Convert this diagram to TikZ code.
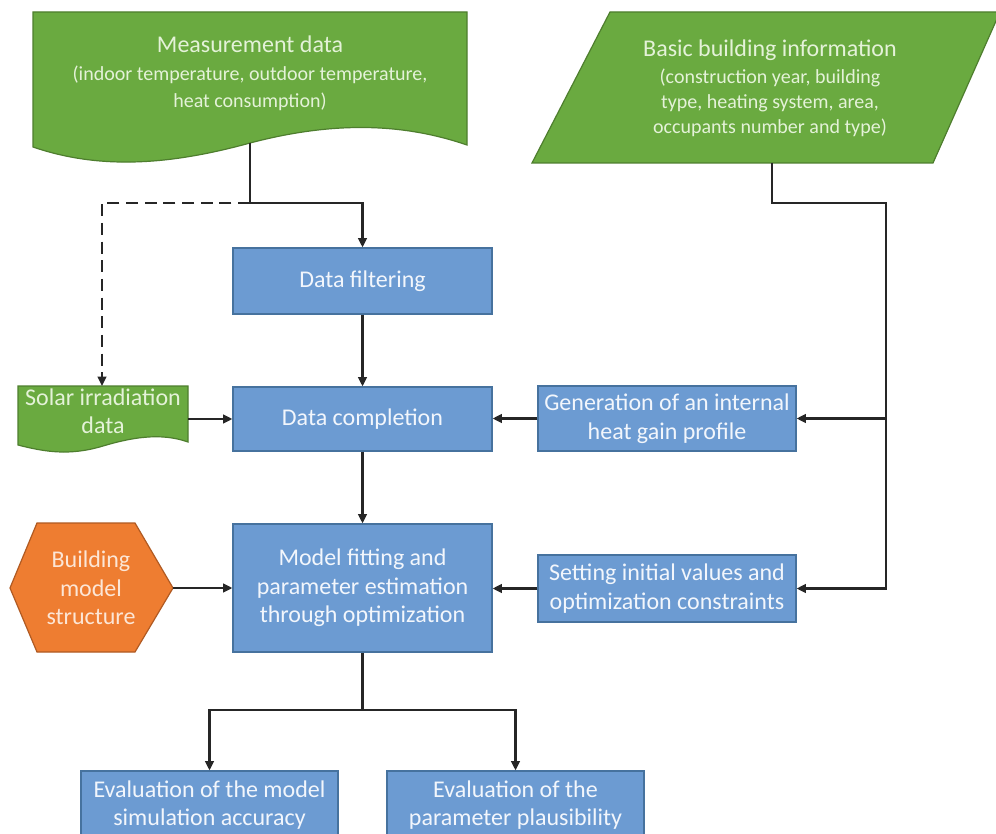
\documentclass[tikz,border=0pt]{standalone}
\usepackage{fontspec}
\setmainfont{Carlito}
\usetikzlibrary{arrows.meta}
\definecolor{gfill}{HTML}{6AAA40}
\definecolor{gline}{HTML}{4E7E2E}
\definecolor{bfill}{HTML}{6C9BD2}
\definecolor{bline}{HTML}{46729E}
\definecolor{ofill}{HTML}{EE7D31}
\definecolor{oline}{HTML}{B05A22}
\definecolor{conn}{HTML}{262626}
\definecolor{gtext}{HTML}{E4F2D8}
\definecolor{btext}{HTML}{F2F6FC}
\definecolor{otext}{HTML}{FCE6D6}
\begin{document}
\begin{tikzpicture}[x=0.75pt,y=-0.75pt,
  bluebox/.style={draw=bline,line width=0.9pt,fill=bfill,text=btext,inner sep=0pt,align=center,
    font=\fontsize{18}{21.4}\selectfont},
  greenshape/.style={draw=gline,line width=0.9pt,fill=gfill},
  orangeshape/.style={draw=oline,line width=0.9pt,fill=ofill},
  gtxt/.style={text=gtext,align=center,inner sep=0pt},
  otxt/.style={text=otext,align=center,inner sep=0pt,font=\fontsize{18}{21.4}\selectfont},
  wire/.style={draw=conn,line width=1.6pt},
  link/.style={wire,-{Triangle[length=7pt,width=6.5pt]}},
  dlink/.style={link,dash pattern=on 9pt off 5pt}]
\useasboundingbox (0,0) rectangle (996,834);
\clip (0,0) rectangle (996,834);
\fill[white] (0,0) rectangle (996,834);

% ---- input shapes
\path[greenshape] (33,12) -- (467,12) -- (467,145)
  .. controls (400,122) and (330,122) .. (250,143)
  .. controls (170,165) and (100,170) .. (33,147) -- cycle;
\node[gtxt,font=\fontsize{15}{20}\selectfont] (meas) at (250,73)
  {{\fontsize{18}{21}\selectfont Measurement data}\\[1pt]
   (indoor temperature, outdoor temperature,\\ heat consumption)};
\coordinate (mbot) at (250,143);
\coordinate (mjoin) at (250,203);

\path[greenshape] (610,12) -- (1000,12) -- (933,163) -- (532,163) -- cycle;
\node[gtxt,font=\fontsize{15}{18.5}\selectfont] (basic) at (770,88)
  {{\fontsize{18}{21}\selectfont Basic building information}\\[2pt]
   (construction year, building\\ type, heating system, area,\\ occupants number and type)};
\coordinate (bbot) at (772,163);
\coordinate (bjoin) at (772,203);
\coordinate (rbus) at (886,203);

\path[greenshape] (18,386) -- (188,386) -- (188,442)
  .. controls (160,432) and (130,438) .. (103,446)
  .. controls (70,456) and (45,452) .. (18,445) -- cycle;
\node[gtxt,font=\fontsize{18}{21}\selectfont] (solar) at (103,411) {Solar irradiation\\ data};
\coordinate (solartop) at (102,386);
\coordinate (solarright) at (188,419);

\path[orangeshape] (10,588) -- (37,523) -- (135,523) -- (173,588) -- (135,652) -- (37,652) -- cycle;
\node[otxt] (hexa) at (91,588) {Building\\ model\\ structure};
\coordinate (hexright) at (173,588);

% ---- process boxes
\node[bluebox,minimum width=194.25pt,minimum height=49.5pt] (filter) at (362.5,281) {Data filtering};
\node[bluebox,minimum width=194.25pt,minimum height=48pt] (compl) at (362.5,419) {Data completion};
\node[bluebox,minimum width=194.25pt,minimum height=96pt] (model) at (362.5,588)
  {Model fitting and\\ parameter estimation\\ through optimization};
\node[bluebox,minimum width=193.5pt,minimum height=48.75pt] (gen) at (667,418.5)
  {Generation of an internal\\ heat gain profile};
\node[bluebox,minimum width=193.5pt,minimum height=50.25pt] (setv) at (667,588.5)
  {Setting initial values and\\ optimization constraints};
\node[bluebox,minimum width=192.75pt,minimum height=51pt] (eval1) at (209.5,805)
  {Evaluation of the model\\ simulation accuracy};
\node[bluebox,minimum width=192.75pt,minimum height=51pt] (eval2) at (515.5,805)
  {Evaluation of the\\ parameter plausibility};
\coordinate (split) at (362.5,710);

% ---- connectors
\draw[link] (mbot) -- (mjoin) -| (filter.north);
\draw[dlink] (mjoin) -| (solartop);
\draw[link] (bbot) -- (bjoin) -- (rbus) |- (setv.east);
\draw[link] (rbus |- gen.east) -- (gen.east);
\draw[link] (filter.south) -- (compl.north);
\draw[link] (solarright) -- (compl.west |- solarright);
\draw[link] (gen.west) -- (compl.east |- gen.west);
\draw[link] (compl.south) -- (model.north);
\draw[link] (hexright) -- (model.west |- hexright);
\draw[link] (setv.west) -- (model.east |- setv.west);
\draw[wire] (model.south) -- (split);
\draw[link] (split) -| (eval1.north);
\draw[link] (split) -| (eval2.north);
\end{tikzpicture}
\end{document}
